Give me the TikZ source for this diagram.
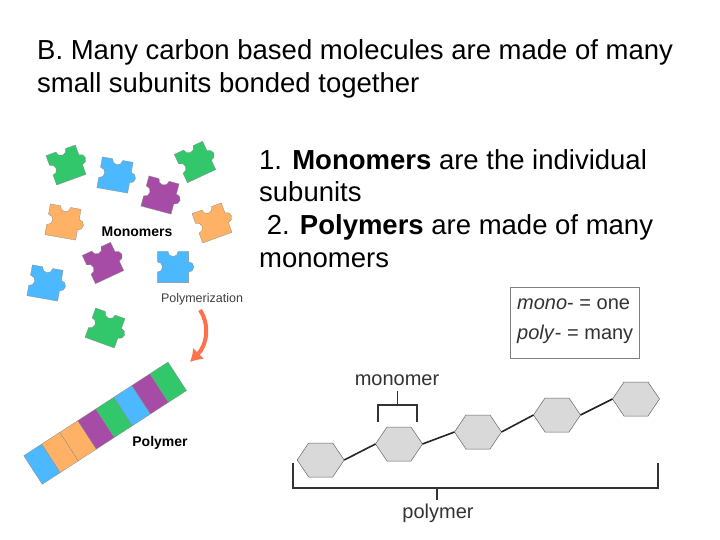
\documentclass[tikz,border=0pt]{standalone}
\usepackage{fontspec}
\usetikzlibrary{arrows.meta}
\setmainfont{Liberation Sans}
\begin{document}
\begin{tikzpicture}[x=1pt,y=-1pt,
  hex/.style={fill=black!15,draw=black!60,line width=0.5pt},
  brk/.style={line width=1.6pt,black!80},
  lbl/.style={font=\fontsize{20}{20}\selectfont,text=black!80,inner sep=0},
  big/.style={font=\fontsize{27.5}{30}\selectfont,inner sep=0,anchor=west},
  pc/.style={draw=black!45,line width=0.3pt}]
\useasboundingbox[fill=white] (0,0) rectangle (720,540);
\node[big] (t1) at (37,52) {B. Many carbon based molecules are made of many};
\node[big] (t2) at (37,85) {small subunits bonded together};
\node[big] (r1) at (259,160) {1. \textbf{Monomers} are the individual};
\node[big] (r2) at (259,192) {subunits};
\node[big] (r3) at (259,227) {\ 2. \textbf{Polymers} are made of many};
\node[big] (r4) at (259,260) {monomers};
% right panel
\foreach \n/\x/\y in {h1/320.7/460,h2/399/444,h3/478/432,h4/557/415,h5/636/399}{
  \coordinate (\n) at (\x,\y);
  \fill[hex] (\x-23.5,\y) -- (\x-12,\y-17) -- (\x+12,\y-17) -- (\x+23.5,\y) -- (\x+12,\y+17) -- (\x-12,\y+17) -- cycle;
  \coordinate (\n L) at (\x-23.5,\y); \coordinate (\n R) at (\x+23.5,\y);
}
\foreach \a/\b in {h1/h2,h2/h3,h3/h4,h4/h5}{\draw[line width=1.6pt,black!85] (\a R) -- (\b L);}
\draw[brk] (378,422) -- (378,405) -- (417,405) -- (417,422);
\draw[brk] (397.5,405) -- (397.5,391);
\node[lbl] (mono) at (397,380) {monomer};
\draw[brk] (293,463) -- (293,488) -- (658,488) -- (658,463);
\draw[brk] (437,488) -- (437,500);
\node[lbl] (poly) at (438,513) {polymer};
\node[draw=black!50,fill=white,minimum width=129,minimum height=71,inner sep=0] (box) at (574.5,322.5) {};
\node[lbl,anchor=west] (b1) at (517,304) {\textit{mono}- = one};
\node[lbl,anchor=west] (b2) at (517,334) {\textit{poly}- = many};
% left panel
\newcommand\piece[4]{\begin{scope}[shift={(#1,#2)},rotate=#3,scale=1.3]
\fill[pc,fill=#4] (-12,-12) -- (-4,-12) arc[start angle=180,end angle=0,radius=4] -- (12,-12) -- (12,-4) arc[start angle=-90,end angle=90,radius=4] -- (12,12) -- (-12,12) -- (-12,4) arc[start angle=90,end angle=-90,radius=4] -- cycle;
\end{scope}}
\colorlet{pg}{green!45!teal!80!white}
\colorlet{pb}{blue!40!cyan!70!white}
\colorlet{pp}{violet!70!white}
\colorlet{po}{orange!60!white}
\piece{66}{165}{20}{pg}
\piece{115}{175}{-10}{pb}
\piece{195}{162}{25}{pg}
\piece{160}{195}{-15}{pp}
\piece{63}{222}{-10}{po}
\piece{212}{223}{20}{po}
\piece{103}{263}{25}{pp}
\piece{45}{283}{-10}{pb}
\piece{173}{267}{0}{pb}
\piece{105}{328}{-20}{pg}
\node[font=\fontsize{14}{14}\selectfont\bfseries,inner sep=0] (mn) at (137,232) {Monomers};
\node[font=\fontsize{12.5}{12}\selectfont,text=black!75,inner sep=0] (pz) at (202,299) {Polymerization};
\node[font=\fontsize{14}{14}\selectfont\bfseries,inner sep=0] (pm) at (160,443) {Polymer};
\coordinate (a1) at (200,310); \coordinate (a2) at (190,362);
\draw[line width=4pt,orange!40!red!70!white,-{Latex[length=12pt,width=16pt]}] (a1) .. controls (210,325) and (207,345) .. (a2);
\begin{scope}[shift={(33,470)},rotate=33]
\foreach \c [count=\i from 0] in {pb,po,po,pp,pg,pb,pp,pg}{
  \fill[pc,fill=\c] (\i*21.5,-17) rectangle (\i*21.5+21.5,17);}
\end{scope}
\end{tikzpicture}
\end{document}
